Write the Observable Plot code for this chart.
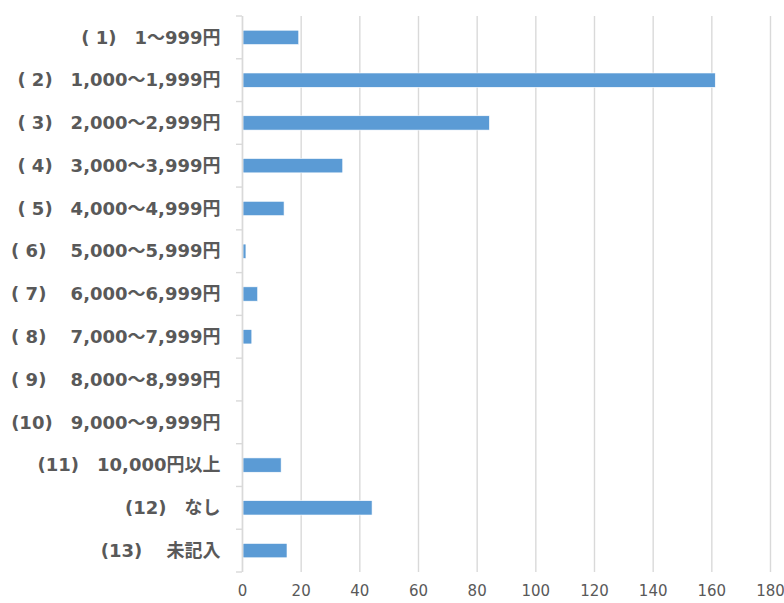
<!DOCTYPE html>
<html><head><meta charset="utf-8">
<script src="https://cdn.jsdelivr.net/npm/d3@7"></script>
<script src="https://cdn.jsdelivr.net/npm/@observablehq/plot@0.6"></script>
<style>body{margin:0;background:#fff}</style>
</head><body><div id="chart"></div>
<script>
const categories = [
  "( 1)　1～999円",
  "( 2)　1,000～1,999円",
  "( 3)　2,000～2,999円",
  "( 4)　3,000～3,999円",
  "( 5)　4,000～4,999円",
  "( 6)　 5,000～5,999円",
  "( 7)　 6,000～6,999円",
  "( 8)　 7,000～7,999円",
  "( 9)　 8,000～8,999円",
  "(10)　9,000～9,999円",
  "(11)　10,000円以上",
  "(12)　なし",
  "(13)　 未記入"
];
const values = [19, 161, 84, 34, 14, 1, 5, 3, 0, 0, 13, 44, 15];
const xTicks = [0, 20, 40, 60, 80, 100, 120, 140, 160, 180];

const data = categories.map((c, i) => ({category: c, value: values[i]}));
const gray = "#595959";
const lineGray = "#d9d9d9";

const plot = Plot.plot({
  width: 784,
  height: 603,
  marginLeft: 242,
  marginRight: 14,
  marginTop: 16,
  marginBottom: 31,
  style: {fontFamily: '"DejaVu Sans","Noto Sans CJK JP",sans-serif', color: gray, background: "#fff"},
  x: {domain: [0, 180], ticks: xTicks, label: null},
  y: {domain: categories, paddingInner: 0.665, paddingOuter: 0.3325, round: false, label: null},
  marks: [
    Plot.gridX(xTicks, {stroke: lineGray, strokeOpacity: 1, strokeWidth: 1.4}),
    Plot.barX(data.filter(d => d.value > 0), {x: "value", y: "category", fill: "#5b9bd5", stroke: "white", strokeWidth: 0.6, dx: 1}),
    Plot.ruleX([0], {stroke: lineGray, strokeWidth: 1.4}),
    Plot.axisY({tickSize: 0, tickPadding: 22, fontSize: 18, fontWeight: "bold", fill: gray, label: null}),
    Plot.axisX(xTicks, {tickSize: 0, tickPadding: 13, fontSize: 15, fill: gray, label: null})
  ]
});

// Excel-style category tick marks at band boundaries
const ys = plot.scale("y");
const gap = ys.step - ys.bandwidth;
const x0 = plot.scale("x").apply(0);
const bounds = categories.map(c => ys.apply(c) - gap / 2);
bounds.push(ys.apply(categories[categories.length - 1]) + ys.bandwidth + gap / 2);
d3.select(plot).append("g")
  .attr("stroke", lineGray).attr("stroke-width", 1.4)
  .selectAll("line").data(bounds).join("line")
  .attr("x1", x0 - 6).attr("x2", x0).attr("y1", d => d).attr("y2", d => d);

document.getElementById("chart").append(plot);
</script>
</body></html>
